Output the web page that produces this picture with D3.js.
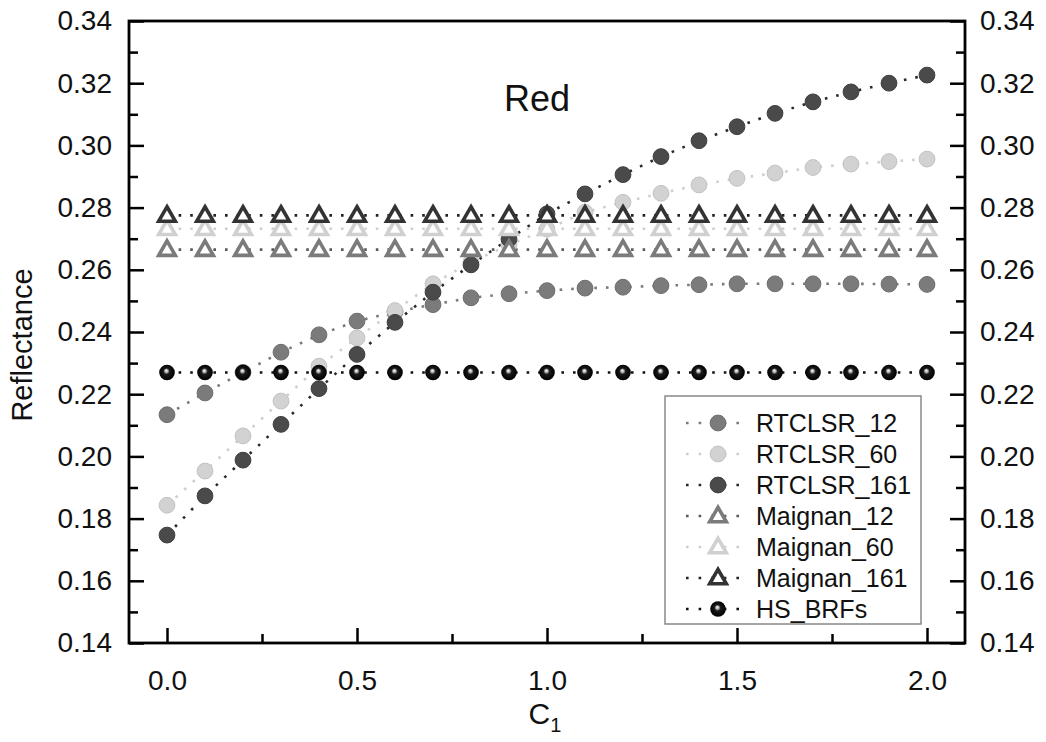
<!DOCTYPE html>
<html><head><meta charset="utf-8">
<script src="https://cdn.jsdelivr.net/npm/d3@7"></script>
<style>
html,body{margin:0;padding:0;background:#fff;}
text{font-family:"Liberation Sans",Arial,sans-serif;fill:#111;}
</style></head>
<body><svg id="chart" width="1046" height="742"></svg>
<script>
const xValues = [0.0,0.1,0.2,0.3,0.4,0.5,0.6,0.7,0.8,0.9,1.0,1.1,1.2,1.3,1.4,1.5,1.6,1.7,1.8,1.9,2.0];
const rtclsr12  = [0.2134,0.2204,0.2270,0.2335,0.2391,0.2435,0.2465,0.2488,0.2510,0.2523,0.2533,0.2541,0.2544,0.2549,0.2552,0.2555,0.2555,0.2555,0.2555,0.2554,0.2553];
const rtclsr60  = [0.1843,0.1953,0.2066,0.2178,0.2290,0.2381,0.2469,0.2555,0.2625,0.2680,0.2731,0.2785,0.2817,0.2846,0.2873,0.2894,0.2911,0.2929,0.2940,0.2948,0.2956];
const rtclsr161 = [0.1747,0.1873,0.1988,0.2103,0.2218,0.2328,0.2431,0.2528,0.2616,0.2699,0.2780,0.2844,0.2906,0.2964,0.3015,0.3060,0.3103,0.3140,0.3172,0.3200,0.3226];
const maignan12  = [0.2665,0.2665,0.2665,0.2665,0.2665,0.2665,0.2665,0.2665,0.2665,0.2665,0.2665,0.2665,0.2665,0.2665,0.2665,0.2665,0.2665,0.2665,0.2665,0.2665,0.2665];
const maignan60  = [0.2732,0.2732,0.2732,0.2732,0.2732,0.2732,0.2732,0.2732,0.2732,0.2732,0.2732,0.2732,0.2732,0.2732,0.2732,0.2732,0.2732,0.2732,0.2732,0.2732,0.2732];
const maignan161 = [0.2775,0.2775,0.2775,0.2775,0.2775,0.2775,0.2775,0.2775,0.2775,0.2775,0.2775,0.2775,0.2775,0.2775,0.2775,0.2775,0.2775,0.2775,0.2775,0.2775,0.2775];
const hsBRFs     = [0.2270,0.2270,0.2270,0.2270,0.2270,0.2270,0.2270,0.2270,0.2270,0.2270,0.2270,0.2270,0.2270,0.2270,0.2270,0.2270,0.2270,0.2270,0.2270,0.2270,0.2270];
const seriesNames = ["RTCLSR_12","RTCLSR_60","RTCLSR_161","Maignan_12","Maignan_60","Maignan_161","HS_BRFs"];
const xMajorTicks = [0.0,0.5,1.0,1.5,2.0];
const xMinorTicks = [0.25,0.75,1.25,1.75];
const yMajorTicks = [0.14,0.16,0.18,0.20,0.22,0.24,0.26,0.28,0.30,0.32,0.34];
const yMinorTicks = [0.15,0.17,0.19,0.21,0.23,0.25,0.27,0.29,0.31,0.33];
const titleText = "Red";
const yTitle = "Reflectance";

const styles = [
  {shape:"circle", fill:"#7b7b7b", stroke:"#6e6e6e", line:"#7b7b7b"},
  {shape:"circle", fill:"#d2d2d2", stroke:"#c2c2c2", line:"#cfcfcf"},
  {shape:"circle", fill:"#4a4a4a", stroke:"#3f3f3f", line:"#2a2a2a"},
  {shape:"tri", fill:"#fff", stroke:"#7b7b7b", line:"#5a5a5a"},
  {shape:"tri", fill:"#fff", stroke:"#d0d0d0", line:"#cfcfcf"},
  {shape:"tri", fill:"#fff", stroke:"#333", line:"#222"},
  {shape:"ball", fill:"url(#ballGrad)", stroke:"none", line:"#111"}
];
const allSeries = [rtclsr12, rtclsr60, rtclsr161, maignan12, maignan60, maignan161, hsBRFs];

const svg = d3.select("#chart");
const L = 129, R = 965, T = 21, B = 643;
const x = d3.scaleLinear().domain([-0.1, 2.1]).range([L, R]);
const y = d3.scaleLinear().domain([0.14, 0.34]).range([B, T]);

const defs = svg.append("defs");
const g = defs.append("radialGradient").attr("id","ballGrad").attr("cx","0.5").attr("cy","0.5").attr("r","0.5").attr("fx","0.45").attr("fy","0.38");
g.append("stop").attr("offset","0%").attr("stop-color","#ffffff");
g.append("stop").attr("offset","18%").attr("stop-color","#bdbdbd");
g.append("stop").attr("offset","40%").attr("stop-color","#1a1a1a");
g.append("stop").attr("offset","100%").attr("stop-color","#000000");

function marker(sel, st, cx, cy) {
  if (st.shape === "circle") {
    sel.append("circle").attr("cx", cx).attr("cy", cy).attr("r", 7.9)
      .attr("fill", st.fill).attr("stroke", st.stroke).attr("stroke-width", 1);
  } else if (st.shape === "ball") {
    sel.append("circle").attr("cx", cx).attr("cy", cy).attr("r", 7.8)
      .attr("fill", st.fill);
  } else {
    sel.append("path").attr("d", d3.symbol().type(d3.symbolTriangle).size(120)())
      .attr("transform", `translate(${cx},${cy + 1})`)
      .attr("fill", st.fill).attr("stroke", st.stroke).attr("stroke-width", 3.6)
      .attr("stroke-linejoin", "miter");
  }
}

// lines
const line = d3.line().x((d, i) => x(xValues[i])).y(d => y(d));
allSeries.forEach((s, k) => {
  svg.append("path").datum(s).attr("d", line).attr("fill", "none")
    .attr("stroke", styles[k].line).attr("stroke-width", 2.6)
    .attr("stroke-dasharray", "2.6,9");
});
// markers
allSeries.forEach((s, k) => {
  const gg = svg.append("g");
  s.forEach((v, i) => marker(gg, styles[k], x(xValues[i]), y(v)));
});

// axes
function styleAxis(a) {
  a.select(".domain").remove();
  a.selectAll(".tick line").attr("stroke", "#000").attr("stroke-width", 2.5);
  a.selectAll(".tick text").style("font-size", "28px").attr("fill", "#111");
}
const axL = svg.append("g").attr("transform", `translate(${L},0)`)
  .call(d3.axisLeft(y).tickValues(yMajorTicks).tickSize(-15).tickPadding(17).tickFormat(d3.format(".2f")));
styleAxis(axL);
const axLm = svg.append("g").attr("transform", `translate(${L},0)`)
  .call(d3.axisLeft(y).tickValues(yMinorTicks).tickSize(-9).tickFormat(""));
styleAxis(axLm);
const axR = svg.append("g").attr("transform", `translate(${R},0)`)
  .call(d3.axisRight(y).tickValues(yMajorTicks).tickSize(-15).tickPadding(15).tickFormat(d3.format(".2f")));
styleAxis(axR);
const axRm = svg.append("g").attr("transform", `translate(${R},0)`)
  .call(d3.axisRight(y).tickValues(yMinorTicks).tickSize(-9).tickFormat(""));
styleAxis(axRm);
const axB = svg.append("g").attr("transform", `translate(0,${B})`)
  .call(d3.axisBottom(x).tickValues(xMajorTicks).tickSize(-15).tickPadding(27).tickFormat(d3.format(".1f")));
styleAxis(axB);
const axBm = svg.append("g").attr("transform", `translate(0,${B})`)
  .call(d3.axisBottom(x).tickValues(xMinorTicks).tickSize(-9).tickFormat(""));
styleAxis(axBm);

// frame
svg.append("rect").attr("x", L).attr("y", T).attr("width", R - L).attr("height", B - T)
  .attr("fill", "none").attr("stroke", "#000").attr("stroke-width", 2.8);

// title
svg.append("text").attr("x", 537).attr("y", 111).attr("text-anchor", "middle")
  .style("font-size", "36px").text(titleText);

// axis titles
svg.append("text").attr("transform", "translate(32,345) rotate(-90)").attr("text-anchor", "middle")
  .style("font-size", "29px").text(yTitle);
const xt = svg.append("text").attr("x", 545).attr("y", 724).attr("text-anchor", "middle").style("font-size", "30px");
xt.append("tspan").text("C");
xt.append("tspan").attr("dy", 8).style("font-size", "20px").text("1");

// legend
const legX = 665, legY = 396, legW = 256, legH = 228;
svg.append("rect").attr("x", legX).attr("y", legY).attr("width", legW).attr("height", legH)
  .attr("fill", "#fff").attr("stroke", "#888").attr("stroke-width", 1.5);
seriesNames.forEach((name, k) => {
  const cy = 423 + k * 31;
  svg.append("line").attr("x1", 686).attr("x2", 748).attr("y1", cy).attr("y2", cy)
    .attr("stroke", styles[k].line).attr("stroke-width", 2.6).attr("stroke-dasharray", "2.6,10");
  const gg = svg.append("g");
  marker(gg, styles[k], 718, cy);
  svg.append("text").attr("x", 756).attr("y", cy + 9).style("font-size", "25px").text(name);
});
</script></body></html>
